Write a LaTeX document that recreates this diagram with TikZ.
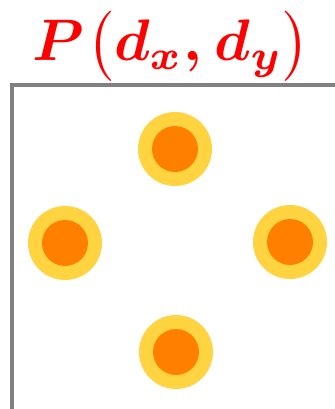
\documentclass[tikz,border=0pt]{standalone}
\usepackage{amsmath}
\usepackage{bm}
\definecolor{ringyellow}{RGB}{255,212,64}
\definecolor{coreorange}{RGB}{255,128,0}
\definecolor{framegray}{RGB}{128,128,128}

\begin{document}
\begin{tikzpicture}[
    x=0.03cm, y=-0.03cm,
    ring/.style={circle, fill=ringyellow, inner sep=0pt, minimum size=2.22cm},
    core/.style={circle, fill=coreorange, inner sep=0pt, minimum size=1.38cm},
    frame/.style={draw=framegray, line width=0.12cm},
    title/.style={text=red, inner sep=0pt, scale=5}
]
\clip (0,0) rectangle (335,409);

% frame (cut off at right and bottom)
\draw[frame] (12,85) rectangle (347,411);

% title
\node[title] (label) at (171,46) {$\bm{P\mkern1mu\bigl(d_x,\mkern1mu d_y\bigr)}$};

% spots
\node[ring] (topring)    at (175,149) {};
\node[ring] (leftring)   at (65,243)  {};
\node[ring] (rightring)  at (290,242) {};
\node[ring] (bottomring) at (176,352) {};

\node[core] (topcore)    at (topring)    {};
\node[core] (leftcore)   at (leftring)   {};
\node[core] (rightcore)  at (rightring)  {};
\node[core] (bottomcore) at (bottomring) {};

\end{tikzpicture}
\end{document}
